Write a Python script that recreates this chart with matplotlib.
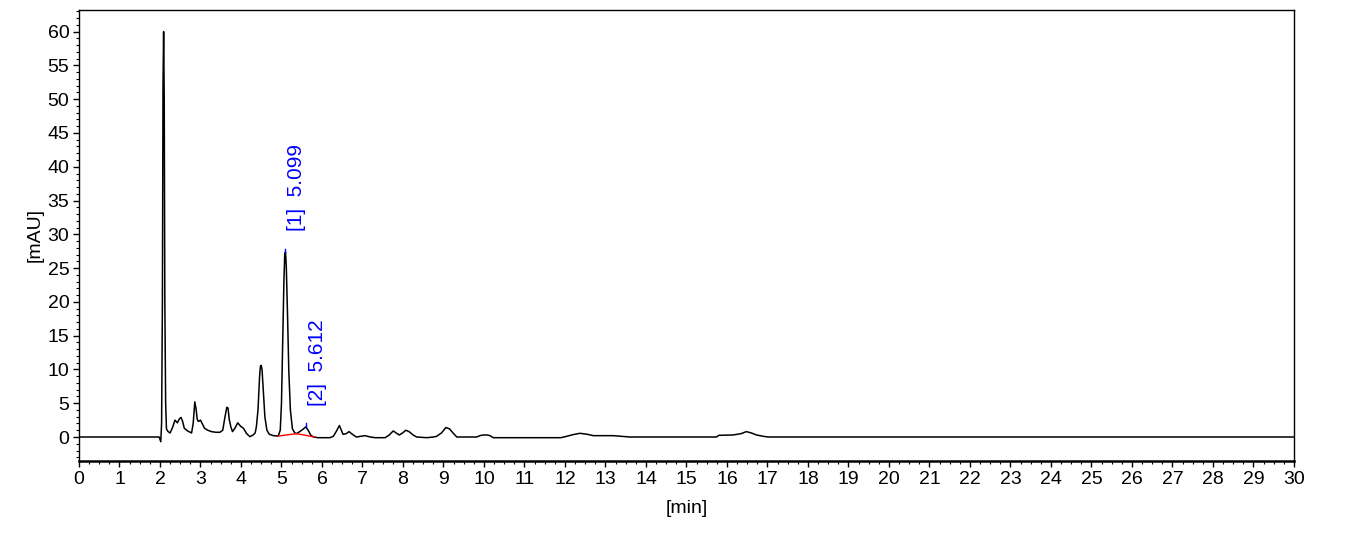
import numpy as np
import matplotlib
matplotlib.use("Agg")
import matplotlib.pyplot as plt
from matplotlib.ticker import MultipleLocator

plt.rcParams['font.family'] = ['Liberation Sans', 'DejaVu Sans']

# chromatogram trace: time [min], signal [mAU]
time_min = [0.0, 1.98, 2.02, 2.04, 2.06, 2.075, 2.09, 2.105, 2.12, 2.14, 2.16, 2.2, 2.25,
            2.31, 2.37, 2.43, 2.48, 2.52, 2.56, 2.6, 2.68, 2.78, 2.82, 2.86, 2.89, 2.92, 2.95,
            3.0, 3.05, 3.1, 3.18, 3.27, 3.38, 3.48, 3.55, 3.6, 3.65, 3.68, 3.71, 3.75, 3.79,
            3.85, 3.92, 3.99, 4.06, 4.14, 4.22, 4.3, 4.35, 4.38, 4.42, 4.46, 4.48, 4.5, 4.52,
            4.55, 4.59, 4.64, 4.7, 4.8, 4.92, 4.97, 5.0, 5.03, 5.06, 5.08, 5.1, 5.12, 5.15,
            5.18, 5.22, 5.27, 5.33, 5.37, 5.45, 5.52, 5.6, 5.66, 5.72, 5.79, 5.9, 6.04, 6.2,
            6.28, 6.36, 6.43, 6.48, 6.52, 6.6, 6.67, 6.75, 6.85, 6.95, 7.06, 7.2, 7.31, 7.45,
            7.56, 7.66, 7.76, 7.83, 7.91, 7.99, 8.07, 8.15, 8.25, 8.34, 8.59, 8.75, 8.83, 8.95,
            9.06, 9.15, 9.25, 9.33, 9.6, 9.82, 9.9, 9.98, 10.08, 10.15, 10.23, 11.0, 11.9,
            12.04, 12.2, 12.37, 12.55, 12.7, 12.9, 13.2, 13.4, 13.6, 15.0, 15.74, 15.8,
            16.15, 16.35, 16.48, 16.6, 16.73, 16.9, 17.02, 20.0, 25.0, 30.0]
signal_mau = [0.0, 0.0, -0.7, 2.0, 20.0, 52.0, 60.0, 50.0, 20.0, 5.0, 1.2, 0.8, 0.6,
              1.4, 2.5, 2.1, 2.7, 2.9, 2.3, 1.3, 0.9, 0.6, 2.0, 5.2, 4.2, 2.6, 2.3,
              2.5, 1.9, 1.3, 1.0, 0.8, 0.7, 0.7, 1.0, 2.8, 4.4, 4.3, 2.6, 1.5, 0.8,
              1.3, 2.1, 1.6, 1.3, 0.5, 0.05, 0.3, 0.6, 1.5, 4.0, 9.0, 10.5, 10.6, 10.0,
              7.0, 3.0, 1.0, 0.4, 0.2, 0.15, 1.0, 5.0, 14.0, 23.0, 27.0, 27.4, 25.0, 18.0,
              10.0, 4.0, 1.2, 0.6, 0.5, 0.8, 1.1, 1.5, 1.0, 0.3, 0.0, -0.1, -0.1, -0.1,
              0.1, 0.9, 1.7, 1.0, 0.4, 0.5, 0.8, 0.4, 0.0, 0.1, 0.2, 0.0, -0.1, -0.1,
              -0.1, 0.3, 0.9, 0.6, 0.3, 0.6, 1.0, 0.8, 0.3, 0.0, -0.1, 0.0, 0.1, 0.6,
              1.4, 1.2, 0.5, 0.0, 0.0, 0.0, 0.2, 0.3, 0.3, 0.2, -0.1, -0.1, -0.1,
              0.1, 0.35, 0.55, 0.4, 0.2, 0.2, 0.2, 0.1, 0.0, 0.0, 0.0, 0.25,
              0.3, 0.5, 0.8, 0.6, 0.3, 0.1, 0.0, 0.0, 0.0, 0.0]

# identified peaks
peak_labels = ["[1]  5.099", "[2]  5.612"]
peak_rt = [5.099, 5.612]
peak_height = [27.4, 1.5]

# integration baselines (red)
base_t = [4.93, 5.37, 5.82]
base_v = [0.15, 0.5, 0.0]

fig = plt.figure(figsize=(13.5, 5.49), dpi=100)
ax = fig.add_axes([0.0585, 0.1603, 0.9, 0.8215])

ax.plot(time_min, signal_mau, color="black", linewidth=1.1)
ax.plot(base_t, base_v, color="red", linewidth=1.0)

for lab, rt, h in zip(peak_labels, peak_rt, peak_height):
    ax.plot([rt, rt], [h, h + 0.5], color="blue", linewidth=1.0)
    ax.annotate(lab, xy=(rt, h), xytext=(8, 15), textcoords="offset points",
                rotation=90, color="blue", fontsize=15, ha="center", va="bottom")

ax.set_xlim(0, 30)
ax.set_ylim(-3.55, 63.2)
ax.xaxis.set_major_locator(MultipleLocator(1))
ax.xaxis.set_minor_locator(MultipleLocator(0.25))
ax.yaxis.set_major_locator(MultipleLocator(5))
ax.yaxis.set_minor_locator(MultipleLocator(1))
ax.set_yticks([0, 5, 10, 15, 20, 25, 30, 35, 40, 45, 50, 55, 60])
ax.tick_params(which="major", direction="out", length=4, width=1, labelsize=14, pad=3)
ax.tick_params(which="minor", direction="out", length=2, width=0.8)
for s in ax.spines.values():
    s.set_linewidth(1.0)
ax.spines["bottom"].set_linewidth(1.8)

ax.set_xlabel("[min]", fontsize=14, labelpad=9)
ax.set_ylabel("[mAU]", fontsize=14, labelpad=3)

fig.savefig("out.png", dpi=100)
